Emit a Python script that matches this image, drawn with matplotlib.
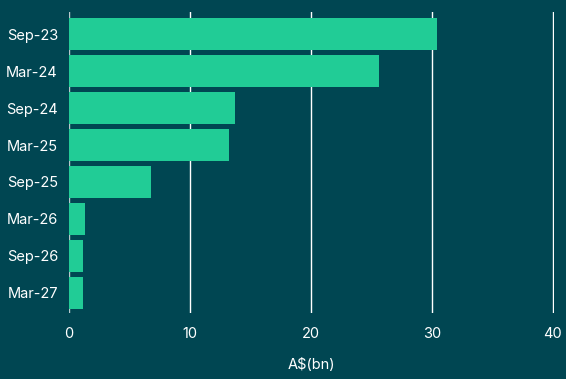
import matplotlib.pyplot as plt

plt.rcParams['font.family'] = ['Inter', 'DejaVu Sans']

periods = ['Sep-23', 'Mar-24', 'Sep-24', 'Mar-25', 'Sep-25', 'Mar-26', 'Sep-26', 'Mar-27']
amounts = [30.4, 25.6, 13.7, 13.2, 6.8, 1.3, 1.15, 1.15]
x_ticks = [0, 10, 20, 30, 40]

bg = '#004652'
bar_col = '#21CC96'

fig = plt.figure(figsize=(5.66, 3.79), dpi=100, facecolor=bg)
ax = fig.add_axes([0.1219, 0.174, 0.857, 0.794], facecolor=bg)

ypos = range(len(periods))
ax.barh(ypos, amounts, height=0.86, color=bar_col, zorder=3)

ax.set_xlim(0, 40.1)
ax.set_ylim(7.55, -0.6)
ax.set_xticks(x_ticks)
ax.set_yticks(list(ypos))
ax.set_yticklabels(periods)

for x in x_ticks:
    ax.axvline(x, color='white' if x else '#b8c8cc', lw=1, zorder=1)

for s in ax.spines.values():
    s.set_visible(False)
ax.tick_params(axis='both', length=0, colors='white', labelsize=10.5)
ax.tick_params(axis='x', pad=10)
ax.tick_params(axis='y', pad=8)
ax.set_xlabel('A$(bn)', color='white', fontsize=10.5, labelpad=12)

fig.savefig('out.png', dpi=100, facecolor=bg)
